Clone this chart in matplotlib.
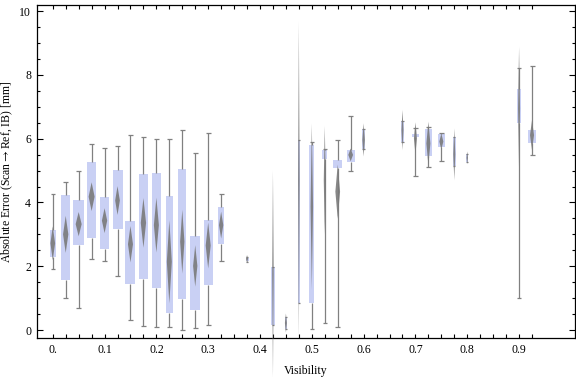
import numpy as np
import matplotlib
matplotlib.use("Agg")
import matplotlib.pyplot as plt

plt.rcParams['font.family'] = ['Liberation Serif', 'DejaVu Serif']
plt.rcParams['mathtext.fontset'] = 'stix'

# visibility bins
vis = [0.0, 0.025, 0.05, 0.075, 0.1, 0.125, 0.15, 0.175, 0.2, 0.225, 0.25, 0.275, 0.3, 0.325,
       0.375, 0.425, 0.45, 0.475, 0.5, 0.525, 0.55, 0.575, 0.6,
       0.675, 0.7, 0.725, 0.75, 0.775, 0.8, 0.9, 0.925]

# whisker / box stats [mm]
w_hi = [4.28, 4.63, 5.00, 5.82, 5.70, 5.77, 6.10, 6.04, 5.98, 5.98, 6.27, 5.54, 6.17, 4.28,
        2.30, 1.98, 0.42, 5.96, 5.90, 5.69, 5.96, 6.72, 6.29,
        6.56, 6.34, 6.37, 6.19, 6.04, 5.52, 8.23, 8.29]
q3 = [3.13, 4.23, 4.08, 5.27, 4.16, 5.02, 3.42, 4.90, 4.93, 4.20, 5.05, 2.95, 3.45, 3.86,
      2.26, 1.98, 0.42, 5.96, 5.80, 5.64, 5.33, 5.66, 6.29,
      6.56, 6.16, 6.29, 6.14, 6.04, 5.52, 7.55, 6.27]
q1 = [2.30, 1.57, 2.66, 2.90, 2.55, 3.18, 1.45, 1.61, 1.33, 0.54, 0.98, 0.63, 1.41, 2.70,
      2.18, 0.16, 0.02, 0.84, 0.86, 5.35, 5.07, 5.28, 5.69,
      5.91, 6.06, 5.46, 5.75, 5.15, 5.28, 6.50, 5.87]
w_lo = [1.90, 0.99, 0.68, 2.23, 2.15, 1.71, 0.30, 0.12, 0.08, 0.08, 0.00, 0.06, 0.15, 2.15,
        2.14, 0.16, 0.02, 0.84, 0.02, 0.21, 0.08, 4.98, 5.69,
        5.91, 4.82, 5.10, 5.29, 5.15, 5.28, 0.99, 5.50]

# diamond (mean / spread) glyph
d_mid = [2.72, 3.00, 3.32, 4.18, 3.43, 4.06, 2.69, 3.36, 3.29, 2.14, 2.77, 2.01, 2.65, 3.29,
         2.23, 1.75, 0.22, 4.67, 3.87, 4.70, 4.34, 5.49, 5.96,
         6.27, 6.01, 5.85, 5.91, 5.51, 5.40, 6.94, 6.11]
d_half = [0.53, 0.58, 0.38, 0.45, 0.39, 0.45, 0.57, 0.78, 0.86, 1.30, 1.00, 0.65, 0.72, 0.42,
          0.12, 3.25, 0.30, 5.00, 2.60, 1.70, 0.85, 0.20, 0.52,
          0.63, 0.50, 0.68, 0.25, 0.81, 0.20, 1.94, 0.47]

# relative box / glyph widths (sample weight)
box_w = [6, 9.3, 11, 9.3, 9.3, 10, 10, 9, 9, 7.3, 8.3, 9.5, 8.7, 6.7,
         3, 3.3, 2, 2.7, 5, 5, 8.5, 8.3, 3.3,
         3.7, 6.3, 6.3, 7, 2.7, 2.3, 4.7, 8]
dia_w = [4.7, 5.3, 6, 6, 5.3, 4.7, 5, 5.3, 5, 5, 4.3, 4.3, 5, 4.3,
         2, 1.5, 2, 1.5, 2.5, 2, 4.7, 4.7, 2.5,
         2, 3, 4, 4, 2, 1.5, 2, 4]

xticks_major = [0.0, 0.1, 0.2, 0.3, 0.4, 0.5, 0.6, 0.7, 0.8, 0.9]
xtick_labels = ['0.', '0.1', '0.2', '0.3', '0.4', '0.5', '0.6', '0.7', '0.8', '0.9']

fig = plt.figure(figsize=(5.76, 3.77), dpi=100)
ax = fig.add_axes([0.0637, 0.1034, 0.9346, 0.8833])
ax.set_xlim(-0.031, 1.008)
ax.set_ylim(-0.25, 10.19)

px = 1.0 / 518  # one pixel in visibility units
vis = np.array(vis)
bw = np.array(box_w) * px
dw = np.array(dia_w) * px
q1a, q3a = np.array(q1), np.array(q3)

box_col = '#c9d0f4'
grey = '#808080'

ax.bar(vis, q3a - q1a, bottom=q1a, width=bw, color=box_col, linewidth=0, zorder=2)

ax.vlines(vis, q3a, w_hi, color=grey, lw=0.9, zorder=3)
ax.vlines(vis, w_lo, q1a, color=grey, lw=0.9, zorder=3)
cap = np.minimum(5 * px, 0.75 * bw) / 2
ax.hlines(w_hi, vis - cap, vis + cap, color=grey, lw=0.9, zorder=3)
ax.hlines(w_lo, vis - cap, vis + cap, color=grey, lw=0.9, zorder=3)

for x, m, h, w in zip(vis, d_mid, d_half, dw):
    ax.fill([x, x + w / 2, x, x - w / 2], [m + h, m, m - h, m],
            color='#7a7a7a', lw=0, alpha=0.9, zorder=4, clip_on=False)

# frame and ticks
ax.set_xticks(xticks_major)
ax.set_xticklabels(xtick_labels)
ax.set_xticks(np.arange(0, 0.926, 0.025), minor=True)
ax.tick_params(axis='x', which='both', direction='in', length=3, width=0.8,
               top=True, bottom=True, pad=4, labelsize=8.5)
ax.set_yticks([0, 2, 4, 6, 8, 10])
ax.set_yticks(np.arange(0, 10.1, 0.5), minor=True)
ax.tick_params(axis='y', which='major', direction='in', length=4, width=0.8,
               left=True, right=True, pad=4, labelsize=8.5)
ax.tick_params(axis='y', which='minor', direction='in', length=2.2, width=0.8,
               left=True, right=True)
for s in ax.spines.values():
    s.set_linewidth(0.9)

ax.set_xlabel('Visibility', fontsize=8.5, labelpad=7)
ax.set_ylabel('Absolute Error (Scan$\\rightarrow$Ref, IB) [mm]', fontsize=8.5)
ax.yaxis.set_label_coords(-0.041, 0.5)

fig.savefig('out.png', dpi=100)
